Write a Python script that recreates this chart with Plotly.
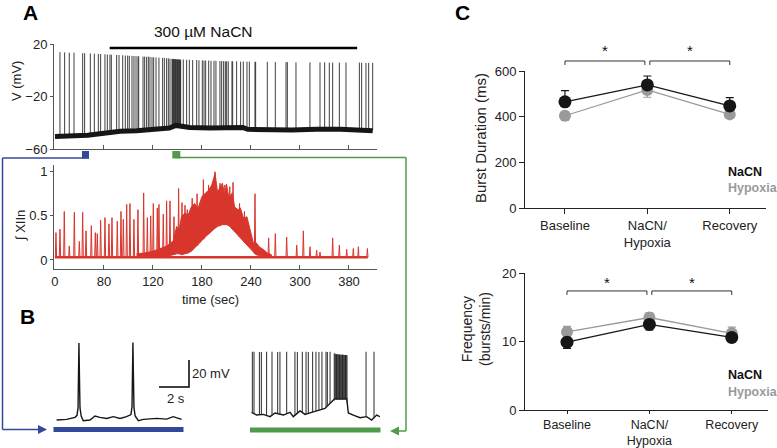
import numpy as np
import plotly.graph_objects as go

W, H = 777, 448
FONT = "Liberation Sans, Arial, Helvetica, sans-serif"

# ---------------- Panel A (top): membrane potential ----------------
vm_spike_times = [6.1, 11.8, 17.5, 23.3, 33.9, 36.3, 43.3, 48.2, 53.1, 55.9, 61.2, 64.1, 67.3, 69.0,
                  75.5, 78.4, 82.9, 86.1, 89.0, 91.0, 94.3, 96.7, 99.2, 101.6, 102.5, 107.8, 109.8,
                  112.2, 114.3, 116.3, 118.8, 120.8, 123.7, 127.3, 131.8, 133.9, 136.7, 138.8, 140.8,
                  157.1, 161.2, 164.5, 168.6, 173.5, 176.3, 180.4, 182.5, 184.5, 188.2, 191.0,
                  194.7, 197.1, 202.0, 204.1, 206.5, 208.6, 210.2, 212.2, 216.7, 217.6, 222.4, 227.3,
                  230.6, 235.1, 238.0, 244.9, 245.7, 260.0, 269.8, 282.9, 284.5, 295.1, 312.2, 324.5,
                  330.2, 335.9, 340.0, 348.2, 356.3, 372.7, 375.5, 380.8, 384.1, 389.0]
vm_spike_peaks = [14.0, 13.8, 13.6, 13.6, 13.2, 13.2, 13.0, 12.8, 12.6, 12.6, 12.4, 12.2, 12.2, 12.0,
                  11.8, 11.8, 11.6, 11.4, 11.4, 11.2, 11.2, 11.0, 11.0, 10.8, 10.8, 10.6, 10.6,
                  10.5, 10.5, 10.4, 10.2, 10.0, 10.0, 9.8, 9.6, 9.6, 9.4, 9.2, 9.0,
                  8.4, 8.2, 8.2, 8.0, 8.0, 7.8, 7.8, 7.6, 7.6, 7.6, 7.4,
                  7.4, 7.4, 7.2, 7.2, 7.2, 7.0, 7.0, 7.0, 7.0, 7.0, 7.0, 6.8,
                  6.8, 6.8, 6.8, 6.6, 6.6, 6.6, 6.4, 6.4, 6.4, 6.2, 6.2, 6.2,
                  6.2, 6.0, 6.0, 6.0, 6.0, 6.0, 5.8, 5.8, 5.8, 5.8]
vm_burst_times = [143.3, 144.0, 144.8, 145.5, 146.2, 147.0, 147.7, 148.4, 149.2, 149.9, 150.6,
                  151.4, 152.1, 152.8, 153.5, 153.9]
vm_burst_peaks = [8.8, 8.8, 8.8, 8.6, 8.6, 8.6, 8.6, 8.6, 8.4, 8.4, 8.4, 8.4, 8.4, 8.2, 8.2, 8.2]
vm_base_t = [0, 20, 40, 60, 80, 100, 120, 140, 148, 152, 165, 190, 230, 236, 260, 290, 320, 350, 389]
vm_base_v = [-50.5, -50, -49.5, -48, -46.5, -46, -45, -44, -42, -42.5, -43.5, -44, -43.5, -45, -45.5,
             -45.5, -45, -45, -46]
nacn_on, nacn_off = 67, 370
nacn_bar_level = 17.2
time_tickvals = [0, 60, 120, 180, 240, 300, 360]
time_ticktext = ["0", "80", "120", "180", "240", "300", "380"]

# ---------------- Panel A (bottom): integrated XII nerve ----------------
xii_base_t = [0, 383]
xii_base_v = [0.03, 0.03]
xii_burst_t = [1.2, 6.1, 11.4, 17.5, 23.7, 29.8, 33.9, 38.0, 44.5, 49.4, 51.8, 55.9, 61.2, 66.1, 69.8,
               76.3, 80.8, 83.7, 87.8, 91.8, 96.7, 101.6, 108.6, 113.1, 117.2, 120.4, 125.3, 127.3,
               132.6, 136.7, 140.8, 145.7, 151.4, 155.5, 159.2, 162.0, 168.0, 174.0, 181.7, 188.0,
               195.9, 202.0, 208.0, 214.0, 218.0, 226.0, 232.0, 244.9, 261.6, 269.8, 283.7, 296.0,
               304.1, 312.3, 320.4, 324.5, 340.0, 348.2, 357.2, 365.3, 371.5, 382.5]
xii_burst_peak = [0.31, 0.35, 0.55, 0.16, 0.54, 0.21, 0.54, 0.33, 0.39, 0.31, 0.30, 0.45, 0.48, 0.41, 0.48,
                  0.44, 0.55, 0.46, 0.63, 0.64, 0.46, 0.57, 0.76, 0.48, 0.50, 0.64, 0.59, 0.63,
                  0.52, 0.67, 0.67, 0.49, 0.81, 0.65, 0.62, 0.57, 0.70, 0.75, 0.91, 0.85,
                  1.00, 0.87, 0.85, 0.83, 0.88, 0.64, 0.55, 0.75, 0.25, 0.30, 0.26, 0.17,
                  0.33, 0.15, 0.11, 0.09, 0.25, 0.17, 0.12, 0.13, 0.15, 0.13]
hump_t = [100, 110, 120, 130, 135, 140, 145, 149, 152, 155, 159, 163, 167, 171, 175, 180, 184, 188, 192, 196,
          199, 202, 205, 208, 210, 213, 217, 220, 224, 227, 231, 235, 238, 241, 243, 246, 250, 255, 260, 265]
hump_hi = [0.07, 0.08, 0.10, 0.13, 0.15, 0.18, 0.22, 0.38, 0.35, 0.49, 0.53, 0.51, 0.60, 0.64, 0.58, 0.72,
           0.76, 0.79, 0.85, 0.98, 0.77, 0.83, 0.87, 0.72, 0.86, 0.70, 0.76, 0.60, 0.57, 0.59, 0.47, 0.49,
           0.38, 0.26, 0.19, 0.20, 0.15, 0.12, 0.08, 0.06]
hump_lo = [0.03, 0.03, 0.03, 0.04, 0.04, 0.05, 0.06, 0.07, 0.07, 0.06, 0.07, 0.08, 0.10, 0.14, 0.17, 0.22,
           0.26, 0.30, 0.33, 0.36, 0.38, 0.39, 0.40, 0.40, 0.40, 0.39, 0.36, 0.33, 0.28, 0.26, 0.22, 0.17,
           0.14, 0.11, 0.09, 0.06, 0.05, 0.04, 0.03, 0.03]

# ---------------- Panel B: expanded traces (s, mV) ----------------
bl_t = [0.04, 0.71, 1.27, 1.40, 1.47, 1.51, 1.53, 1.56, 1.60, 1.68, 1.82, 2.27, 2.60, 2.93, 3.38, 3.82,
        4.27, 4.71, 5.00, 5.07, 5.11, 5.13, 5.16, 5.20, 5.28, 5.49, 5.82, 6.27, 6.71, 7.38, 7.82, 8.38]
bl_v = [0.0, 0.5, 2.0, 3.5, 9.0, 35.0, 57.0, 35.0, 9.0, 3.0, -0.5, 0.0, 3.0, 2.0, 1.2, 2.5,
        1.2, 2.5, 4.0, 10.0, 35.0, 57.5, 35.0, 9.0, 3.0, -0.5, 0.5, 1.0, 1.2, 0.7, 2.5, 0.5]
br_base_t = [0.04, 0.38, 0.82, 1.27, 1.60, 2.16, 2.60, 2.82, 3.27, 3.60, 4.04, 4.60, 4.93, 5.38, 5.60,
             6.38, 6.49, 6.82, 7.27, 7.71, 8.04, 8.38, 8.60]
br_base_v = [5.7, 3.7, 4.2, 2.5, 5.2, 3.7, 5.7, 2.5, 6.7, 4.2, 5.7, 7.4, 8.6, 13.6, 16.0,
             16.0, 5.2, 3.7, 1.7, 2.5, 0.0, 3.7, 2.5]
br_spike_t = [0.09, 0.20, 0.56, 0.69, 1.04, 1.40, 1.78, 1.93, 2.38, 2.93, 3.09, 3.42, 3.67, 3.82,
              4.11, 4.33, 4.53, 4.73, 5.00, 5.09, 5.27, 7.67, 8.20]
br_spike_peak = [50.6, 50.6, 50.4, 50.4, 50.6, 50.6, 50.4, 50.6, 50.6, 50.6, 50.4, 50.6,
                 50.6, 50.4, 50.6, 50.6, 50.4, 50.6, 50.6, 50.4, 50.6, 50.6, 50.6]
br_burst_t = [5.55, 5.60, 5.65, 5.70, 5.75, 5.80, 5.85, 5.90, 5.95, 6.00, 6.05, 6.10, 6.15, 6.20,
              6.25, 6.30, 6.35, 6.40]
br_burst_peak = [49.5, 49.0, 49.0, 48.8, 48.8, 48.6, 48.6, 48.6, 48.4, 48.4, 48.4, 48.4, 48.4, 48.2,
                 48.2, 48.2, 48.2, 48.0]
scale_s, scale_mv = 2, 20
scale_corner = (8.87, 24.4)

# ---------------- Panel C: summary ----------------
conditions = ["Baseline", "NaCN/<br>Hypoxia", "Recovery"]
dur_nacn = [465, 539, 447]
dur_nacn_err = [49, 39, 36]
dur_hyp = [404, 517, 410]
dur_hyp_err = [20, 32, 15]
freq_nacn = [9.9, 12.5, 10.6]
freq_nacn_err = [0.9, 0.8, 0.7]
freq_hyp = [11.4, 13.5, 11.2]
freq_hyp_err = [0.8, 0.7, 0.9]

BLACK = "#161616"
SPIKE = "#2a2a2a"
GRAY = "#9a9a9a"
RED = "#d8352c"
BLUE = "#34489b"
GREEN = "#4f9b4a"
AX = "#555555"


def px(x):
    return x / W


def py(y):
    return 1 - y / H


fig = go.Figure()

# ---- A top
feet = np.interp(vm_spike_times, vm_base_t, vm_base_v)
sx, sy = [], []
for t, f, p in zip(vm_spike_times, feet, vm_spike_peaks):
    sx += [t, t, None]
    sy += [f, p, None]
bfeet = np.interp(vm_burst_times, vm_base_t, vm_base_v)
for t, f, p in zip(vm_burst_times, bfeet, vm_burst_peaks):
    sx += [t, t, None]
    sy += [f, p, None]
fig.add_trace(go.Scatter(x=sx, y=sy, mode="lines", line=dict(color=SPIKE, width=0.9),
                         xaxis="x", yaxis="y", hoverinfo="skip"))
fig.add_trace(go.Scatter(x=vm_base_t, y=vm_base_v, mode="lines", line=dict(color=BLACK, width=5),
                         xaxis="x", yaxis="y", hoverinfo="skip"))
fig.add_trace(go.Scatter(x=[nacn_on, nacn_off], y=[nacn_bar_level, nacn_bar_level], mode="lines",
                         line=dict(color="black", width=2.5), xaxis="x", yaxis="y", hoverinfo="skip"))

# ---- A bottom (red)
fig.add_trace(go.Scatter(x=xii_base_t, y=xii_base_v, mode="lines", line=dict(color=RED, width=2.5),
                         xaxis="x2", yaxis="y2", hoverinfo="skip"))
fig.add_trace(go.Scatter(x=hump_t + hump_t[::-1], y=hump_hi + hump_lo[::-1], mode="lines",
                         fill="toself", fillcolor=RED, line=dict(color=RED, width=1),
                         xaxis="x2", yaxis="y2", hoverinfo="skip"))
rfeet = np.where((np.array(xii_burst_t) > hump_t[0]) & (np.array(xii_burst_t) < hump_t[-1]),
                 np.interp(xii_burst_t, hump_t, hump_lo), xii_base_v[0])
rx, ry = [], []
for t, f, p in zip(xii_burst_t, rfeet, xii_burst_peak):
    rx += [t - 0.8, t, t + 0.8, None]
    ry += [f, p, f, None]
fig.add_trace(go.Scatter(x=rx, y=ry, mode="lines", line=dict(color=RED, width=1),
                         xaxis="x2", yaxis="y2", hoverinfo="skip"))

# ---- B left
fig.add_trace(go.Scatter(x=bl_t, y=bl_v, mode="lines", line=dict(color=BLACK, width=1.4),
                         xaxis="x3", yaxis="y3", hoverinfo="skip"))
sbx, sby = scale_corner
fig.add_trace(go.Scatter(x=[sbx - scale_s, sbx, sbx], y=[sby, sby, sby + scale_mv], mode="lines",
                         line=dict(color="black", width=1.5), xaxis="x3", yaxis="y3", hoverinfo="skip"))

# ---- B right
fig.add_trace(go.Scatter(x=br_base_t, y=br_base_v, mode="lines", line=dict(color=BLACK, width=1.4),
                         xaxis="x4", yaxis="y4", hoverinfo="skip"))
rf = np.interp(br_spike_t, br_base_t, br_base_v)
bx, byy = [], []
for t, f, p in zip(br_spike_t, rf, br_spike_peak):
    bx += [t, t, None]
    byy += [f, p, None]
rbf = np.interp(br_burst_t, br_base_t, br_base_v)
for t, f, p in zip(br_burst_t, rbf, br_burst_peak):
    bx += [t, t, None]
    byy += [f - 1, p, None]
fig.add_trace(go.Scatter(x=bx, y=byy, mode="lines", line=dict(color=SPIKE, width=1),
                         xaxis="x4", yaxis="y4", hoverinfo="skip"))

# ---- C top
cx = [0, 1, 2]
fig.add_trace(go.Scatter(x=cx, y=dur_hyp, mode="lines+markers", line=dict(color=GRAY, width=1.3),
                         marker=dict(color=GRAY, size=12),
                         error_y=dict(type="data", symmetric=False, array=[0, 0, 0], arrayminus=dur_hyp_err,
                                      color=GRAY, thickness=1.2, width=4),
                         xaxis="x5", yaxis="y5", hoverinfo="skip"))
fig.add_trace(go.Scatter(x=cx, y=dur_nacn, mode="lines+markers", line=dict(color=BLACK, width=1.3),
                         marker=dict(color=BLACK, size=13),
                         error_y=dict(type="data", symmetric=False, array=dur_nacn_err, arrayminus=[0, 0, 0],
                                      color=BLACK, thickness=1.2, width=4),
                         xaxis="x5", yaxis="y5", hoverinfo="skip"))
# ---- C bottom
fig.add_trace(go.Scatter(x=cx, y=freq_hyp, mode="lines+markers", line=dict(color=GRAY, width=1.3),
                         marker=dict(color=GRAY, size=12),
                         error_y=dict(type="data", symmetric=False, array=freq_hyp_err, arrayminus=[0, 0, 0],
                                      color=GRAY, thickness=1.2, width=4),
                         xaxis="x6", yaxis="y6", hoverinfo="skip"))
fig.add_trace(go.Scatter(x=cx, y=freq_nacn, mode="lines+markers", line=dict(color=BLACK, width=1.3),
                         marker=dict(color=BLACK, size=13),
                         error_y=dict(type="data", symmetric=False, array=[0, 0, 0], arrayminus=freq_nacn_err,
                                      color=BLACK, thickness=1.2, width=4),
                         xaxis="x6", yaxis="y6", hoverinfo="skip"))

tickfont = dict(family=FONT, size=13, color="#222")
hidden = dict(visible=False, showgrid=False, zeroline=False)

fig.update_layout(
    width=W, height=H, margin=dict(l=0, r=0, t=0, b=0, autoexpand=False),
    paper_bgcolor="white", plot_bgcolor="white", showlegend=False,
    font=dict(family=FONT, size=13, color="#222"),
    xaxis=dict(domain=[px(54), px(377)], range=[-1.2, 394.3], anchor="y", showgrid=False, zeroline=False,
               showline=True, linecolor=AX, linewidth=1, ticks="inside", ticklen=4, tickcolor=AX,
               tickvals=time_tickvals, showticklabels=False),
    yaxis=dict(domain=[py(149), py(44.3)], range=[-60, 20], anchor="x", showgrid=False, zeroline=False,
               showline=True, linecolor=AX, linewidth=1, ticks="outside", ticklen=3, tickcolor=AX,
               tickvals=[20, -20, -60], ticktext=["20", "\u221220", "\u221260"], tickfont=tickfont),
    xaxis2=dict(domain=[px(54), px(377)], range=[-1.2, 394.3], anchor="y2", showgrid=False, zeroline=False,
                showline=True, linecolor=AX, linewidth=1, ticks="inside", ticklen=4, tickcolor=AX,
                tickvals=time_tickvals, ticktext=time_ticktext, tickfont=tickfont),
    yaxis2=dict(domain=[py(269), py(165)], range=[-0.102, 1.076], anchor="x2", showgrid=False, zeroline=False,
                showline=True, linecolor=AX, linewidth=1, ticks="outside", ticklen=3, tickcolor=AX,
                tickvals=[0, 0.5, 1], ticktext=["0", "0.5", "1"], tickfont=tickfont),
    xaxis3=dict(domain=[px(56), px(192)], range=[0, 9.07], anchor="y3", **hidden),
    yaxis3=dict(domain=[py(428), py(340)], range=[-5.9, 59.3], anchor="x3", **hidden),
    xaxis4=dict(domain=[px(251), px(380)], range=[0, 8.6], anchor="y4", **hidden),
    yaxis4=dict(domain=[py(428), py(340)], range=[-5.9, 59.3], anchor="x4", **hidden),
    xaxis5=dict(domain=[px(525), px(766)], range=[-0.485, 2.44], anchor="y5", showgrid=False, zeroline=False,
                showline=True, linecolor="#222", linewidth=1, ticks="outside", ticklen=5, tickcolor="#222",
                tickvals=cx, ticktext=conditions, tickfont=tickfont),
    yaxis5=dict(domain=[py(208), py(71)], range=[0, 600], anchor="x5", showgrid=False, zeroline=False,
                showline=True, linecolor="#222", linewidth=1, ticks="outside", ticklen=5, tickcolor="#222",
                tickvals=[0, 200, 400, 600], tickfont=tickfont),
    xaxis6=dict(domain=[px(525), px(768)], range=[-0.51, 2.44], anchor="y6", showgrid=False, zeroline=False,
                showline=True, linecolor="#222", linewidth=1, ticks="outside", ticklen=3, tickcolor="#222",
                tickvals=cx, ticktext=conditions, tickfont=dict(family=FONT, size=12.5, color="#222")),
    yaxis6=dict(domain=[py(410), py(273)], range=[0, 20], anchor="x6", showgrid=False, zeroline=False,
                showline=True, linecolor="#222", linewidth=1, ticks="outside", ticklen=5, tickcolor="#222",
                tickvals=[0, 10, 20], tickfont=tickfont),
)

ann = []


def txt(x, y, s, size=13, color="#222", xanchor="center", yanchor="middle", angle=0, xref="paper",
        yref="paper"):
    ann.append(dict(x=x, y=y, xref=xref, yref=yref, text=s, showarrow=False, textangle=angle,
                    xanchor=xanchor, yanchor=yanchor, font=dict(family=FONT, size=size, color=color)))


txt(px(30), py(12), "<b>A</b>", size=21, color="black")
txt(px(27.5), py(316), "<b>B</b>", size=21, color="black")
txt(px(462), py(12), "<b>C</b>", size=21, color="black")
txt(px(204), py(32), "300 \u00b5M NaCN", size=15.5, color="#111")
txt(px(17), py(81), "V (mV)", size=13, angle=-90)
txt(px(20), py(226), "\u222b XIIn", size=13, angle=-90)
txt(px(210), py(299), "time (sec)", size=13)
txt(px(480), py(138), "Burst Duration (ms)", size=15, angle=-90)
txt(px(476), py(329), "Frequency<br>(bursts/min)", size=14, angle=-90)
txt(sbx + 0.08, sby + scale_mv / 2, "20 mV", size=13, xanchor="left", xref="x3", yref="y3")
txt(sbx - scale_s / 2 + 0.13, sby - 8.8, "2 s", size=13, xref="x3", yref="y3")
for yn, yh in [(172, 187.5), (375, 391.5)]:
    txt(px(726), py(yn), "<b>NaCN</b>", size=12.5, color="#111", xanchor="left")
    txt(px(726), py(yh), "<b>Hypoxia</b>", size=12.5, color=GRAY, xanchor="left")

# significance brackets + stars
shapes = []
for xr, yr, yb, ytk, ys in [("x5", "y5 domain", 1.073, 1.044, 1.15), ("x6", "y6 domain", 0.869, 0.84, 0.93)]:
    for a, b in [(0, 0.97), (1.03, 2)]:
        shapes.append(dict(type="path", xref=xr, yref=yr,
                           path=f"M {a} {ytk} L {a} {yb} L {b} {yb} L {b} {ytk}",
                           line=dict(color="#333", width=1)))
        txt((a + b) / 2, ys, "*", size=15, color="#111", xref=xr, yref=yr)


# connectors (decorations)
def seg(x0, y0, x1, y1, color, width=1.5):
    shapes.append(dict(type="line", xref="paper", yref="paper", x0=px(x0), y0=py(y0), x1=px(x1), y1=py(y1),
                       line=dict(color=color, width=width)))


def rect(x0, y0, x1, y1, color):
    shapes.append(dict(type="rect", xref="paper", yref="paper", x0=px(x0), y0=py(y0), x1=px(x1), y1=py(y1),
                       fillcolor=color, line=dict(width=0)))


# blue
rect(82, 151, 89, 158.5, BLUE)
seg(2.5, 158, 89, 158, BLUE)
seg(2.5, 158, 2.5, 429.5, BLUE)
seg(2.5, 429.5, 40, 429.5, BLUE)
rect(53.5, 427, 183.5, 432, BLUE)
# green
rect(172.3, 151, 180.3, 158.5, GREEN)
seg(176, 157.5, 406, 157.5, GREEN)
seg(406, 157.5, 406, 431, GREEN)
seg(406, 431, 396, 431, GREEN)
rect(250, 427.5, 380.5, 432.5, GREEN)

ann.append(dict(x=px(47), y=py(429.5), ax=-9, ay=0, xref="paper", yref="paper",
                showarrow=True, arrowhead=2, arrowsize=1.2, arrowwidth=1.5, arrowcolor=BLUE, text=""))
ann.append(dict(x=px(390), y=py(431), ax=9, ay=0, xref="paper", yref="paper",
                showarrow=True, arrowhead=2, arrowsize=1.2, arrowwidth=1.5, arrowcolor=GREEN, text=""))

fig.update_layout(annotations=ann, shapes=shapes)
fig.write_html("out.html", config={"displayModeBar": False},
               post_script="document.body.style.margin='0px';document.body.style.padding='0px';"
                           "document.documentElement.style.overflow='hidden';")
